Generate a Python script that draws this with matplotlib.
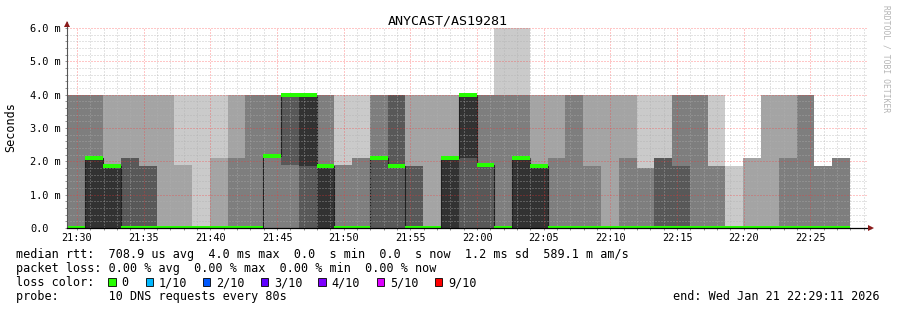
import numpy as np
import matplotlib
matplotlib.use("Agg")
import matplotlib.pyplot as plt
from matplotlib.patches import Rectangle
from matplotlib.ticker import MultipleLocator, FuncFormatter

plt.rcParams['font.family'] = 'DejaVu Sans Mono'
plt.rcParams['lines.scale_dashes'] = False

title = "ANYCAST/AS19281"

# 10 sorted DNS round-trip times (ms) for each 80 s step
pings = [
    [0, 0, 0, 0, 0, 0, 0, 4.0, 4.0, 4.0],
    [0, 0, 0, 0, 0, 2.1, 2.1, 4.0, 4.0, 4.0],
    [0, 0, 0, 0, 0, 1.85, 1.85, 1.85, 4.0, 4.0],
    [0, 0, 0, 0, 0, 0, 2.1, 2.1, 4.0, 4.0],
    [0, 0, 0, 0, 0, 0, 1.85, 1.85, 4.0, 4.0],
    [0, 0, 0, 0, 0, 0, 0, 0, 4.0, 4.0],
    [0, 0, 0, 0, 0, 0, 0, 0, 1.9, 4.0],
    [0, 0, 0, 0, 0, 0, 0, 0, 0, 4.0],
    [0, 0, 0, 0, 0, 0, 0, 0, 2.1, 4.0],
    [0, 0, 0, 0, 0, 0, 0, 2.1, 4.0, 4.0],
    [0, 0, 0, 0, 0, 0, 0, 4.0, 4.0, 4.0],
    [0, 0, 0, 2.15, 2.15, 2.15, 2.15, 4.0, 4.0, 4.0],
    [0, 0, 0, 1.9, 4.0, 4.0, 4.0, 4.0, 4.0, 4.0],
    [0, 0, 0, 0, 1.85, 4.0, 4.0, 4.0, 4.0, 4.0],
    [0, 0, 0, 0, 0, 1.85, 1.85, 4.0, 4.0, 4.0],
    [0, 0, 0, 0, 0, 0, 0, 1.9, 1.9, 4.0],
    [0, 0, 0, 0, 0, 0, 0, 2.1, 2.1, 4.0],
    [0, 0, 0, 0, 2.1, 2.1, 2.1, 4.0, 4.0, 4.0],
    [0, 0, 0, 0, 1.85, 1.85, 4.0, 4.0, 4.0, 4.0],
    [0, 0, 0, 0, 0, 0, 1.85, 1.85, 4.0, 4.0],
    [0, 0, 0, 0, 0, 0, 0, 0, 4.0, 4.0],
    [0, 0, 0, 0, 0, 2.1, 2.1, 2.1, 4.0, 4.0],
    [0, 0, 0, 0, 2.1, 4.0, 4.0, 4.0, 4.0, 4.0],
    [0, 0, 0, 0, 1.9, 1.9, 1.9, 4.0, 4.0, 4.0],
    [0, 0, 0, 0, 0, 0, 0, 4.0, 4.0, 6.0],
    [0, 0, 0, 0, 0, 2.1, 2.1, 4.0, 4.0, 6.0],
    [0, 0, 0, 0, 0, 1.85, 1.85, 1.85, 4.0, 4.0],
    [0, 0, 0, 0, 0, 0, 0, 2.1, 4.0, 4.0],
    [0, 0, 0, 0, 0, 0, 0, 4.0, 4.0, 4.0],
    [0, 0, 0, 0, 0, 0, 0, 1.85, 4.0, 4.0],
    [0, 0, 0, 0, 0, 0, 0, 0, 4.0, 4.0],
    [0, 0, 0, 0, 0, 0, 0, 2.1, 4.0, 4.0],
    [0, 0, 0, 0, 0, 0, 0, 1.8, 1.8, 4.0],
    [0, 0, 0, 0, 0, 0, 2.1, 2.1, 2.1, 4.0],
    [0, 0, 0, 0, 0, 0, 1.85, 4.0, 4.0, 4.0],
    [0, 0, 0, 0, 0, 0, 0, 4.0, 4.0, 4.0],
    [0, 0, 0, 0, 0, 0, 0, 1.85, 1.85, 4.0],
    [0, 0, 0, 0, 0, 0, 0, 0, 0, 1.85],
    [0, 0, 0, 0, 0, 0, 0, 0, 2.1, 2.1],
    [0, 0, 0, 0, 0, 0, 0, 0, 4.0, 4.0],
    [0, 0, 0, 0, 0, 0, 0, 2.1, 4.0, 4.0],
    [0, 0, 0, 0, 0, 0, 0, 4.0, 4.0, 4.0],
    [0, 0, 0, 0, 0, 0, 0, 1.85, 1.85, 1.85],
    [0, 0, 0, 0, 0, 0, 0, 2.1, 2.1, 2.1],
]

# time axis in minutes after 21:00
first_step = 29 + 18 / 60
step_minutes = 80 / 60
view_start = 29.25
view_end = 89.25

median_row = "median rtt:  708.9 us avg  4.0 ms max  0.0  s min  0.0  s now  1.2 ms sd  589.1 m am/s"
loss_row = "packet loss: 0.00 % avg  0.00 % max  0.00 % min  0.00 % now"
probe_row = "probe:       10 DNS requests every 80s"
end_row = "end: Wed Jan 21 22:29:11 2026"
loss_labels = ["0", "1/10", "2/10", "3/10", "4/10", "5/10", "9/10"]
loss_colors = ["#26ff00", "#00b8ff", "#0059ff", "#5e00ff", "#7e00ff", "#dd00ff", "#ff0000"]
box_x = [108.3, 145.7, 203.0, 261.0, 318.3, 376.7, 435.0]

W, H = 897, 310
fig = plt.figure(figsize=(W / 100, H / 100), dpi=100)
fig.patch.set_facecolor("white")


def fx(x):
    return x / W


def fy(y):
    return 1 - y / H


ax = fig.add_axes([fx(67), fy(228), 800 / W, 200 / H])
ax.set_xlim(view_start, view_end)
ax.set_ylim(0, 6)

p = np.array(pings)
edges = first_step + step_minutes * np.arange(len(p) + 1)

# smoke: outer pairs light, inner pairs dark
for i in range(5):
    shade = int(190 / 5 * (5 - (i + 1))) + 50
    lo = p[:, i]
    hi = p[:, 9 - i]
    ax.bar(edges[:-1], hi - lo, bottom=lo, width=step_minutes, align='edge',
           color='#%02x%02x%02x' % (shade, shade, shade), linewidth=0,
           antialiased=False, zorder=1)

median = p[:, 5]
ax.stairs(median, edges, baseline=None, color='#202020', lw=0.8, zorder=2)
ax.hlines(median, edges[:-1], edges[1:], colors=loss_colors[0], lw=1.6,
          antialiased=False, zorder=4)

ax.xaxis.set_major_locator(MultipleLocator(5))
ax.xaxis.set_minor_locator(MultipleLocator(1))
ax.yaxis.set_major_locator(MultipleLocator(1))
ax.yaxis.set_minor_locator(MultipleLocator(0.2))
ax.xaxis.set_major_formatter(FuncFormatter(
    lambda v, pos: "%d:%02d" % (21 + int(round(v)) // 60, int(round(v)) % 60)))
ax.yaxis.set_major_formatter(FuncFormatter(
    lambda v, pos: "0.0" if abs(v) < 1e-9 else "%.1f m" % v))

ax.set_axisbelow(False)
ax.grid(which='minor', color='#b0b0b0', alpha=0.7, lw=0.72, ls=(0, (0.72, 1.44)))
ax.grid(which='major', color='#ff3030', alpha=0.55, lw=0.72, ls=(0, (0.72, 1.44)))
ax.tick_params(which='both', length=1.5, width=0.7, color='#909090',
               direction='out', labelsize=7.4)
ax.tick_params(axis='x', pad=2)
ax.tick_params(axis='y', pad=25.2)
for lab in ax.get_yticklabels():
    lab.set_horizontalalignment('left')

for s in ax.spines.values():
    s.set_visible(False)
ax.plot([0, 0], [0, 1.03], transform=ax.transAxes, color='#555555', lw=0.8,
        clip_on=False, zorder=5)
ax.plot([0, 1.005], [0, 0], transform=ax.transAxes, color='black', lw=0.9,
        clip_on=False, zorder=5)
ax.plot(0, 1.0225, marker='^', ms=4.5, color='#8b1a1a', mew=0,
        transform=ax.transAxes, clip_on=False, zorder=6)
ax.plot(1.0056, 0, marker='>', ms=4.5, color='#8b1a1a', mew=0,
        transform=ax.transAxes, clip_on=False, zorder=6)

fig.text(fx(448), fy(25), title, ha='center', va='baseline', fontsize=9.6)
fig.text(fx(11), fy(127), "Seconds", rotation=90, ha='center', va='center', fontsize=8.5)
fig.text(fx(886), fy(5), "RRDTOOL / TOBI OETIKER", rotation=270, ha='center',
         va='top', fontsize=5.8, color='#b4b4b4')

fs = 8.5
fig.text(fx(16), fy(258), median_row, ha='left', va='baseline', fontsize=fs)
fig.text(fx(16), fy(272), loss_row, ha='left', va='baseline', fontsize=fs)
fig.text(fx(16), fy(286), "loss color:", ha='left', va='baseline', fontsize=fs)
fig.text(fx(16), fy(300), probe_row, ha='left', va='baseline', fontsize=fs)
fig.text(fx(880), fy(300), end_row, ha='right', va='baseline', fontsize=fs)

for bx, lab, col in zip(box_x, loss_labels, loss_colors):
    fig.add_artist(Rectangle((fx(bx), fy(285.7)), 7.4 / W, 8.2 / H,
                             transform=fig.transFigure, facecolor=col,
                             edgecolor='black', lw=0.6))
    fig.text(fx(bx + 13), fy(286), lab, ha='left', va='baseline', fontsize=fs)

fig.savefig("out.png", dpi=100, facecolor="white")
